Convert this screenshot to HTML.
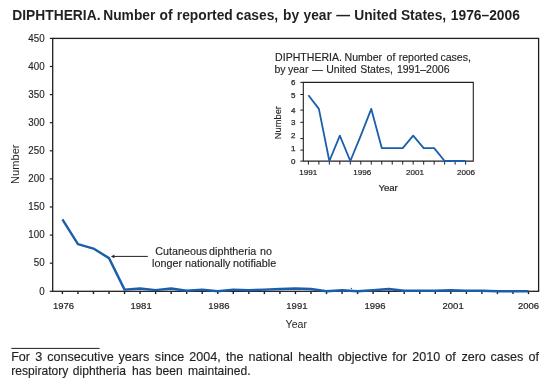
<!DOCTYPE html>
<html><head><meta charset="utf-8"><style>
html,body{margin:0;padding:0;background:#fff;width:555px;height:386px;overflow:hidden}
svg{display:block;will-change:transform}
text{font-family:"Liberation Sans",sans-serif;fill:#231f20}
</style></head><body>
<svg width="555" height="386" viewBox="0 0 555 386">
<rect x="52.7" y="38.4" width="485.9" height="252.9" fill="none" stroke="#231f20" stroke-width="1.3"/>
<line x1="49.8" y1="291.30" x2="52.7" y2="291.30" stroke="#231f20" stroke-width="1.2"/>
<text transform="translate(44.6,294.55) scale(0.94,1)" font-size="10.4" stroke="#231f20" stroke-width="0.15" text-anchor="end">0</text>
<line x1="49.8" y1="263.20" x2="52.7" y2="263.20" stroke="#231f20" stroke-width="1.2"/>
<text transform="translate(44.6,266.45) scale(0.94,1)" font-size="10.4" stroke="#231f20" stroke-width="0.15" text-anchor="end">50</text>
<line x1="49.8" y1="235.10" x2="52.7" y2="235.10" stroke="#231f20" stroke-width="1.2"/>
<text transform="translate(44.6,238.35) scale(0.94,1)" font-size="10.4" stroke="#231f20" stroke-width="0.15" text-anchor="end">100</text>
<line x1="49.8" y1="207.00" x2="52.7" y2="207.00" stroke="#231f20" stroke-width="1.2"/>
<text transform="translate(44.6,210.25) scale(0.94,1)" font-size="10.4" stroke="#231f20" stroke-width="0.15" text-anchor="end">150</text>
<line x1="49.8" y1="178.90" x2="52.7" y2="178.90" stroke="#231f20" stroke-width="1.2"/>
<text transform="translate(44.6,182.15) scale(0.94,1)" font-size="10.4" stroke="#231f20" stroke-width="0.15" text-anchor="end">200</text>
<line x1="49.8" y1="150.80" x2="52.7" y2="150.80" stroke="#231f20" stroke-width="1.2"/>
<text transform="translate(44.6,154.05) scale(0.94,1)" font-size="10.4" stroke="#231f20" stroke-width="0.15" text-anchor="end">250</text>
<line x1="49.8" y1="122.70" x2="52.7" y2="122.70" stroke="#231f20" stroke-width="1.2"/>
<text transform="translate(44.6,125.95) scale(0.94,1)" font-size="10.4" stroke="#231f20" stroke-width="0.15" text-anchor="end">300</text>
<line x1="49.8" y1="94.60" x2="52.7" y2="94.60" stroke="#231f20" stroke-width="1.2"/>
<text transform="translate(44.6,97.85) scale(0.94,1)" font-size="10.4" stroke="#231f20" stroke-width="0.15" text-anchor="end">350</text>
<line x1="49.8" y1="66.50" x2="52.7" y2="66.50" stroke="#231f20" stroke-width="1.2"/>
<text transform="translate(44.6,69.75) scale(0.94,1)" font-size="10.4" stroke="#231f20" stroke-width="0.15" text-anchor="end">400</text>
<line x1="49.8" y1="38.40" x2="52.7" y2="38.40" stroke="#231f20" stroke-width="1.2"/>
<text transform="translate(44.6,41.65) scale(0.94,1)" font-size="10.4" stroke="#231f20" stroke-width="0.15" text-anchor="end">450</text>
<line x1="62.40" y1="291.3" x2="62.40" y2="294.10" stroke="#231f20" stroke-width="1.4"/>
<line x1="77.94" y1="291.3" x2="77.94" y2="294.10" stroke="#231f20" stroke-width="1.4"/>
<line x1="93.47" y1="291.3" x2="93.47" y2="294.10" stroke="#231f20" stroke-width="1.4"/>
<line x1="109.01" y1="291.3" x2="109.01" y2="294.10" stroke="#231f20" stroke-width="1.4"/>
<line x1="124.55" y1="291.3" x2="124.55" y2="294.10" stroke="#231f20" stroke-width="1.4"/>
<line x1="140.09" y1="291.3" x2="140.09" y2="294.10" stroke="#231f20" stroke-width="1.4"/>
<line x1="155.62" y1="291.3" x2="155.62" y2="294.10" stroke="#231f20" stroke-width="1.4"/>
<line x1="171.16" y1="291.3" x2="171.16" y2="294.10" stroke="#231f20" stroke-width="1.4"/>
<line x1="186.70" y1="291.3" x2="186.70" y2="294.10" stroke="#231f20" stroke-width="1.4"/>
<line x1="202.23" y1="291.3" x2="202.23" y2="294.10" stroke="#231f20" stroke-width="1.4"/>
<line x1="217.77" y1="291.3" x2="217.77" y2="294.10" stroke="#231f20" stroke-width="1.4"/>
<line x1="233.31" y1="291.3" x2="233.31" y2="294.10" stroke="#231f20" stroke-width="1.4"/>
<line x1="248.84" y1="291.3" x2="248.84" y2="294.10" stroke="#231f20" stroke-width="1.4"/>
<line x1="264.38" y1="291.3" x2="264.38" y2="294.10" stroke="#231f20" stroke-width="1.4"/>
<line x1="279.92" y1="291.3" x2="279.92" y2="294.10" stroke="#231f20" stroke-width="1.4"/>
<line x1="295.45" y1="291.3" x2="295.45" y2="294.10" stroke="#231f20" stroke-width="1.4"/>
<line x1="310.99" y1="291.3" x2="310.99" y2="294.10" stroke="#231f20" stroke-width="1.4"/>
<line x1="326.53" y1="291.3" x2="326.53" y2="294.10" stroke="#231f20" stroke-width="1.4"/>
<line x1="342.07" y1="291.3" x2="342.07" y2="294.10" stroke="#231f20" stroke-width="1.4"/>
<line x1="357.60" y1="291.3" x2="357.60" y2="294.10" stroke="#231f20" stroke-width="1.4"/>
<line x1="373.14" y1="291.3" x2="373.14" y2="294.10" stroke="#231f20" stroke-width="1.4"/>
<line x1="388.68" y1="291.3" x2="388.68" y2="294.10" stroke="#231f20" stroke-width="1.4"/>
<line x1="404.21" y1="291.3" x2="404.21" y2="294.10" stroke="#231f20" stroke-width="1.4"/>
<line x1="419.75" y1="291.3" x2="419.75" y2="294.10" stroke="#231f20" stroke-width="1.4"/>
<line x1="435.29" y1="291.3" x2="435.29" y2="294.10" stroke="#231f20" stroke-width="1.4"/>
<line x1="450.82" y1="291.3" x2="450.82" y2="294.10" stroke="#231f20" stroke-width="1.4"/>
<line x1="466.36" y1="291.3" x2="466.36" y2="294.10" stroke="#231f20" stroke-width="1.4"/>
<line x1="481.90" y1="291.3" x2="481.90" y2="294.10" stroke="#231f20" stroke-width="1.4"/>
<line x1="497.44" y1="291.3" x2="497.44" y2="294.10" stroke="#231f20" stroke-width="1.4"/>
<line x1="512.97" y1="291.3" x2="512.97" y2="294.10" stroke="#231f20" stroke-width="1.4"/>
<line x1="528.51" y1="291.3" x2="528.51" y2="294.10" stroke="#231f20" stroke-width="1.4"/>
<text transform="translate(63.50,308.7) scale(1,1.04)" font-size="9.5" stroke="#231f20" stroke-width="0.2" text-anchor="middle">1976</text>
<text transform="translate(141.10,308.7) scale(1,1.04)" font-size="9.5" stroke="#231f20" stroke-width="0.2" text-anchor="middle">1981</text>
<text transform="translate(218.90,308.7) scale(1,1.04)" font-size="9.5" stroke="#231f20" stroke-width="0.2" text-anchor="middle">1986</text>
<text transform="translate(296.90,308.7) scale(1,1.04)" font-size="9.5" stroke="#231f20" stroke-width="0.2" text-anchor="middle">1991</text>
<text transform="translate(375.00,308.7) scale(1,1.04)" font-size="9.5" stroke="#231f20" stroke-width="0.2" text-anchor="middle">1996</text>
<text transform="translate(453.10,308.7) scale(1,1.04)" font-size="9.5" stroke="#231f20" stroke-width="0.2" text-anchor="middle">2001</text>
<text transform="translate(528.50,308.7) scale(1,1.04)" font-size="9.5" stroke="#231f20" stroke-width="0.2" text-anchor="middle">2006</text>
<text x="296.3" y="327.7" font-size="10.6" text-anchor="middle">Year</text>
<text transform="translate(18.6,164.2) rotate(-90)" font-size="11.1" text-anchor="middle">Number</text>
<polyline points="62.40,219.34 77.94,244.08 93.47,248.57 109.01,258.13 124.55,289.61 140.09,288.49 155.62,290.18 171.16,288.49 186.70,290.74 202.23,289.61 217.77,291.30 233.31,289.61 248.84,290.18 264.38,289.61 279.92,289.05 295.45,288.49 310.99,289.05 326.53,291.30 342.07,290.18 357.60,291.30 373.14,290.18 388.68,289.05 404.21,290.74 419.75,290.74 435.29,290.74 450.82,290.18 466.36,290.74 481.90,290.74 497.44,291.30 512.97,291.30 528.51,291.30" fill="none" stroke="#1b5eab" stroke-width="2.4" stroke-linejoin="round"/>
<text x="12.32" y="19.8" font-size="13.8" font-weight="bold">DIPHTHERIA.</text>
<text x="103.22" y="19.8" font-size="13.8" font-weight="bold">Number</text>
<text x="159.50" y="19.8" font-size="13.8" font-weight="bold">of</text>
<text x="176.82" y="19.8" font-size="13.8" font-weight="bold">reported</text>
<text x="236.00" y="19.8" font-size="13.8" font-weight="bold">cases,</text>
<text x="283.02" y="19.8" font-size="13.8" font-weight="bold">by</text>
<text x="303.48" y="19.8" font-size="13.8" font-weight="bold">year</text>
<text x="336.20" y="19.8" font-size="13.8" font-weight="bold">—</text>
<text x="354.23" y="19.8" font-size="13.8" font-weight="bold">United</text>
<text x="400.93" y="19.8" font-size="13.8" font-weight="bold">States,</text>
<text x="450.82" y="19.8" font-size="13.8" font-weight="bold">1976–2006</text>
<text transform="translate(275.12,60.9) scale(1.0073,1)" font-size="10.5" stroke="#231f20" stroke-width="0.15">DIPHTHERIA.</text>
<text transform="translate(344.51,60.9) scale(1.0073,1)" font-size="10.5" stroke="#231f20" stroke-width="0.15">Number</text>
<text transform="translate(386.59,60.9) scale(1.0073,1)" font-size="10.5" stroke="#231f20" stroke-width="0.15">of</text>
<text transform="translate(398.70,60.9) scale(1.0073,1)" font-size="10.5" stroke="#231f20" stroke-width="0.15">reported</text>
<text transform="translate(440.45,60.9) scale(1.0073,1)" font-size="10.5" stroke="#231f20" stroke-width="0.15">cases,</text>
<text transform="translate(274.38,73.3) scale(1.0007,1)" font-size="10.5" stroke="#231f20" stroke-width="0.15">by</text>
<text transform="translate(287.96,73.3) scale(1.0007,1)" font-size="10.5" stroke="#231f20" stroke-width="0.15">year</text>
<text transform="translate(312.15,73.3) scale(1.0007,1)" font-size="10.5" stroke="#231f20" stroke-width="0.15">—</text>
<text transform="translate(326.20,73.3) scale(1.0007,1)" font-size="10.5" stroke="#231f20" stroke-width="0.15">United</text>
<text transform="translate(360.16,73.3) scale(1.0007,1)" font-size="10.5" stroke="#231f20" stroke-width="0.15">States,</text>
<text transform="translate(396.90,73.3) scale(1.0007,1)" font-size="10.5" stroke="#231f20" stroke-width="0.15">1991–2006</text>
<text transform="translate(155.34,254.9) scale(1.0226,1)" font-size="10.5" stroke="#231f20" stroke-width="0.15">Cutaneous</text>
<text transform="translate(209.11,254.9) scale(1.0226,1)" font-size="10.5" stroke="#231f20" stroke-width="0.15">diphtheria</text>
<text transform="translate(259.96,254.9) scale(1.0226,1)" font-size="10.5" stroke="#231f20" stroke-width="0.15">no</text>
<text transform="translate(152.07,266.6) scale(1.0276,1)" font-size="10.5" stroke="#231f20" stroke-width="0.15">longer</text>
<text transform="translate(184.93,266.6) scale(1.0276,1)" font-size="10.5" stroke="#231f20" stroke-width="0.15">nationally</text>
<text transform="translate(233.09,266.6) scale(1.0276,1)" font-size="10.5" stroke="#231f20" stroke-width="0.15">notifiable</text>
<text transform="translate(11.15,360.8) scale(1.0238,1)" font-size="12.3" stroke="#231f20" stroke-width="0.15">For</text>
<text transform="translate(35.29,360.8) scale(1.0238,1)" font-size="12.3" stroke="#231f20" stroke-width="0.15">3</text>
<text transform="translate(47.24,360.8) scale(1.0238,1)" font-size="12.3" stroke="#231f20" stroke-width="0.15">consecutive</text>
<text transform="translate(118.57,360.8) scale(1.0238,1)" font-size="12.3" stroke="#231f20" stroke-width="0.15">years</text>
<text transform="translate(154.86,360.8) scale(1.0238,1)" font-size="12.3" stroke="#231f20" stroke-width="0.15">since</text>
<text transform="translate(189.36,360.8) scale(1.0238,1)" font-size="12.3" stroke="#231f20" stroke-width="0.15">2004,</text>
<text transform="translate(226.04,360.8) scale(1.0238,1)" font-size="12.3" stroke="#231f20" stroke-width="0.15">the</text>
<text transform="translate(248.62,360.8) scale(1.0238,1)" font-size="12.3" stroke="#231f20" stroke-width="0.15">national</text>
<text transform="translate(298.19,360.8) scale(1.0238,1)" font-size="12.3" stroke="#231f20" stroke-width="0.15">health</text>
<text transform="translate(337.72,360.8) scale(1.0238,1)" font-size="12.3" stroke="#231f20" stroke-width="0.15">objective</text>
<text transform="translate(392.31,360.8) scale(1.0238,1)" font-size="12.3" stroke="#231f20" stroke-width="0.15">for</text>
<text transform="translate(412.17,360.8) scale(1.0238,1)" font-size="12.3" stroke="#231f20" stroke-width="0.15">2010</text>
<text transform="translate(445.15,360.8) scale(1.0238,1)" font-size="12.3" stroke="#231f20" stroke-width="0.15">of</text>
<text transform="translate(461.38,360.8) scale(1.0238,1)" font-size="12.3" stroke="#231f20" stroke-width="0.15">zero</text>
<text transform="translate(490.45,360.8) scale(1.0238,1)" font-size="12.3" stroke="#231f20" stroke-width="0.15">cases</text>
<text transform="translate(528.45,360.8) scale(1.0238,1)" font-size="12.3" stroke="#231f20" stroke-width="0.15">of</text>
<text transform="translate(11.28,375.2) scale(0.9842,1)" font-size="12.3" stroke="#231f20" stroke-width="0.15">respiratory</text>
<text transform="translate(72.83,375.2) scale(0.9842,1)" font-size="12.3" stroke="#231f20" stroke-width="0.15">diphtheria</text>
<text transform="translate(132.04,375.2) scale(0.9842,1)" font-size="12.3" stroke="#231f20" stroke-width="0.15">has</text>
<text transform="translate(155.83,375.2) scale(0.9842,1)" font-size="12.3" stroke="#231f20" stroke-width="0.15">been</text>
<text transform="translate(188.01,375.2) scale(0.9842,1)" font-size="12.3" stroke="#231f20" stroke-width="0.15">maintained.</text>
<line x1="113" y1="256.4" x2="147.8" y2="256.4" stroke="#231f20" stroke-width="1"/>
<path d="M110.9,256.4 L114.6,254.6 L114.1,256.4 L114.6,258.2 Z" fill="#231f20"/>
<path d="M303.3,82.4 H473.3 V161.1 H303.3 Z" fill="none" stroke="#231f20" stroke-width="1.1"/>
<line x1="300.3" y1="161.1" x2="303.3" y2="161.1" stroke="#231f20" stroke-width="1"/>
<text x="295.4" y="163.70" font-size="8" stroke="#231f20" stroke-width="0.25" text-anchor="end">0</text>
<line x1="300.3" y1="150.1" x2="303.3" y2="150.1" stroke="#231f20" stroke-width="1"/>
<text x="295.4" y="150.70" font-size="8" stroke="#231f20" stroke-width="0.25" text-anchor="end">1</text>
<line x1="300.3" y1="138.6" x2="303.3" y2="138.6" stroke="#231f20" stroke-width="1"/>
<text x="295.4" y="138.10" font-size="8" stroke="#231f20" stroke-width="0.25" text-anchor="end">2</text>
<line x1="300.3" y1="122.3" x2="303.3" y2="122.3" stroke="#231f20" stroke-width="1"/>
<text x="295.4" y="125.10" font-size="8" stroke="#231f20" stroke-width="0.25" text-anchor="end">3</text>
<line x1="300.3" y1="110.1" x2="303.3" y2="110.1" stroke="#231f20" stroke-width="1"/>
<text x="295.4" y="112.80" font-size="8" stroke="#231f20" stroke-width="0.25" text-anchor="end">4</text>
<line x1="300.3" y1="94.5" x2="303.3" y2="94.5" stroke="#231f20" stroke-width="1"/>
<text x="295.4" y="98.30" font-size="8" stroke="#231f20" stroke-width="0.25" text-anchor="end">5</text>
<line x1="300.3" y1="82.4" x2="303.3" y2="82.4" stroke="#231f20" stroke-width="1"/>
<text x="295.4" y="85.10" font-size="8" stroke="#231f20" stroke-width="0.25" text-anchor="end">6</text>
<line x1="308.40" y1="161.1" x2="308.40" y2="164.6" stroke="#231f20" stroke-width="1"/>
<line x1="318.88" y1="161.1" x2="318.88" y2="164.6" stroke="#231f20" stroke-width="1"/>
<line x1="329.36" y1="161.1" x2="329.36" y2="164.6" stroke="#231f20" stroke-width="1"/>
<line x1="339.84" y1="161.1" x2="339.84" y2="164.6" stroke="#231f20" stroke-width="1"/>
<line x1="350.32" y1="161.1" x2="350.32" y2="164.6" stroke="#231f20" stroke-width="1"/>
<line x1="360.80" y1="161.1" x2="360.80" y2="164.6" stroke="#231f20" stroke-width="1"/>
<line x1="371.28" y1="161.1" x2="371.28" y2="164.6" stroke="#231f20" stroke-width="1"/>
<line x1="381.76" y1="161.1" x2="381.76" y2="164.6" stroke="#231f20" stroke-width="1"/>
<line x1="392.24" y1="161.1" x2="392.24" y2="164.6" stroke="#231f20" stroke-width="1"/>
<line x1="402.72" y1="161.1" x2="402.72" y2="164.6" stroke="#231f20" stroke-width="1"/>
<line x1="413.20" y1="161.1" x2="413.20" y2="164.6" stroke="#231f20" stroke-width="1"/>
<line x1="423.68" y1="161.1" x2="423.68" y2="164.6" stroke="#231f20" stroke-width="1"/>
<line x1="434.16" y1="161.1" x2="434.16" y2="164.6" stroke="#231f20" stroke-width="1"/>
<line x1="444.64" y1="161.1" x2="444.64" y2="164.6" stroke="#231f20" stroke-width="1"/>
<line x1="455.12" y1="161.1" x2="455.12" y2="164.6" stroke="#231f20" stroke-width="1"/>
<line x1="465.60" y1="161.1" x2="465.60" y2="164.6" stroke="#231f20" stroke-width="1"/>
<text x="308.30" y="175.0" font-size="8.1" stroke="#231f20" stroke-width="0.2" text-anchor="middle">1991</text>
<text x="362.20" y="175.0" font-size="8.1" stroke="#231f20" stroke-width="0.2" text-anchor="middle">1996</text>
<text x="414.90" y="175.0" font-size="8.1" stroke="#231f20" stroke-width="0.2" text-anchor="middle">2001</text>
<text x="465.90" y="175.0" font-size="8.1" stroke="#231f20" stroke-width="0.2" text-anchor="middle">2006</text>
<text x="388.1" y="191.0" font-size="9.6" stroke="#231f20" stroke-width="0.2" text-anchor="middle">Year</text>
<text transform="translate(281.3,122.6) rotate(-90)" font-size="9.3" stroke="#231f20" stroke-width="0.15" text-anchor="middle">Number</text>
<polyline points="308.40,95.30 318.88,108.90 329.36,161.00 339.84,135.60 350.32,161.00 360.80,135.60 371.28,108.90 381.76,148.10 392.24,148.10 402.72,148.10 413.20,135.60 423.68,148.10 434.16,148.10 444.64,161.00 455.12,161.00 465.60,161.00" fill="none" stroke="#1b5eab" stroke-width="1.8" stroke-linejoin="round"/>
<circle cx="351.4" cy="288.4" r="0.65" fill="#1b5eab"/>
<line x1="11.3" y1="348.4" x2="99.6" y2="348.4" stroke="#231f20" stroke-width="1"/>
</svg>
</body></html>
